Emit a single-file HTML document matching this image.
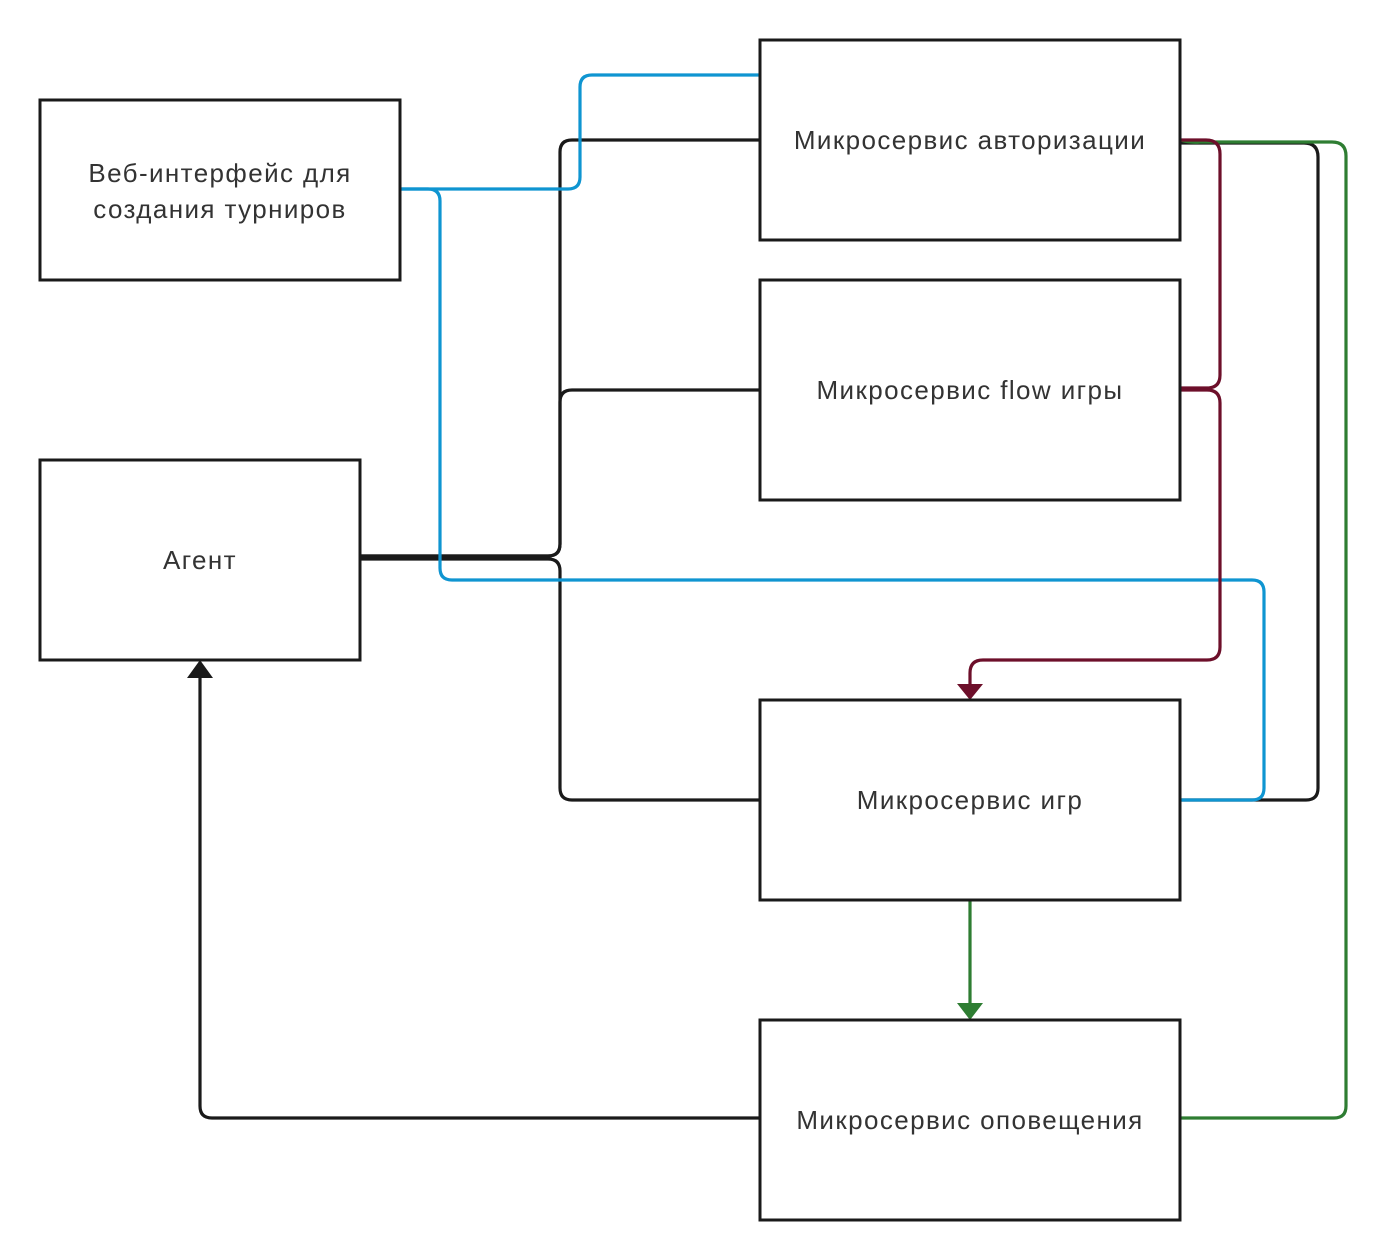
<!DOCTYPE html>
<html><head><meta charset="utf-8"><style>html,body{margin:0;padding:0;background:#fff}svg{display:block}text{font-family:"Liberation Sans","DejaVu Sans",sans-serif;font-size:26px;letter-spacing:1.4px;fill:#333;text-anchor:middle}</style></head>
<body>
<svg width="1386" height="1260" viewBox="0 0 1386 1260" xmlns="http://www.w3.org/2000/svg">
<g fill="none" stroke-width="3.2" stroke-linejoin="round">
<path d="M360 556 H548 Q560 556 560 544 V152 Q560 140 572 140 H760" stroke="#1a1a1a"/>
<path d="M360 556 H548 Q560 556 560 544 V402 Q560 390 572 390 H760" stroke="#1a1a1a"/>
<path d="M360 559 H548 Q560 559 560 571 V788 Q560 800 572 800 H760" stroke="#1a1a1a"/>
<path d="M1180 800 H1306 Q1318 800 1318 788 V157 Q1318 143 1304 143 H1180" stroke="#1a1a1a"/>
<path d="M760 1118 H212 Q200 1118 200 1106 V676" stroke="#1a1a1a"/>
<path d="M400 189 H568 Q580 189 580 177 V87 Q580 75 592 75 H760" stroke="#0f95d1"/>
<path d="M400 189 H428 Q440 189 440 201 V568 Q440 580 452 580 H1252 Q1264 580 1264 592 V788 Q1264 800 1252 800 H1180" stroke="#0f95d1"/>
<path d="M1180 140 Q1190 143 1200 142 H1332 Q1346 142 1346 156 V1106 Q1346 1118 1334 1118 H1180" stroke="#2e7d32"/>
<path d="M970 900 V1006" stroke="#2e7d32"/>
<path d="M1180 140 H1206 Q1220 140 1220 154 V375 Q1220 388 1207 388 H1180" stroke="#6d0f2a"/>
<path d="M1180 390 H1207 Q1220 390 1220 403 V647 Q1220 660 1207 660 H983 Q970 660 970 673 V686" stroke="#6d0f2a"/>
</g>
<polygon points="957,684 983,684 970,700" fill="#6d0f2a"/>
<polygon points="957,1003 983,1003 970,1020" fill="#2e7d32"/>
<polygon points="187,678 213,678 200,660" fill="#1a1a1a"/>
<g fill="#fff" stroke="#1a1a1a" stroke-width="3">
<rect x="40" y="100" width="360" height="180"/>
<rect x="40" y="460" width="320" height="200"/>
<rect x="760" y="40" width="420" height="200"/>
<rect x="760" y="280" width="420" height="220"/>
<rect x="760" y="700" width="420" height="200"/>
<rect x="760" y="1020" width="420" height="200"/>
</g>
<text x="220" y="182">Веб-интерфейс для</text>
<text x="220" y="218">создания турниров</text>
<text x="200" y="569">Агент</text>
<text x="970" y="149">Микросервис авторизации</text>
<text x="970" y="399">Микросервис flow игры</text>
<text x="970" y="809">Микросервис игр</text>
<text x="970" y="1129">Микросервис оповещения</text>
</svg>
</body></html>
